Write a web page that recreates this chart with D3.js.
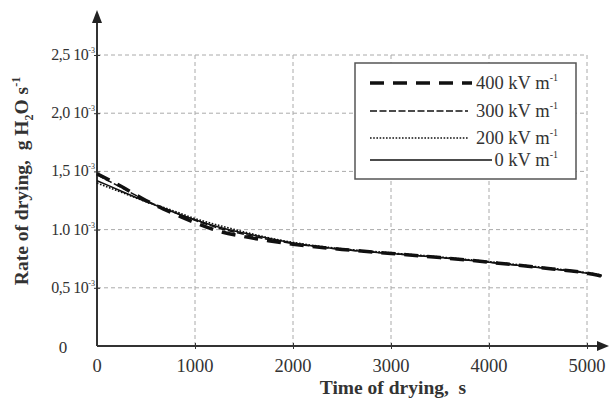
<!DOCTYPE html>
<html>
<head>
<meta charset="utf-8">
<script src="https://cdn.jsdelivr.net/npm/d3@7"></script>
<style>
body { margin: 0; background: #fff; }
text { font-family: "Liberation Serif", "Times New Roman", serif; fill: #333; }
</style>
</head>
<body>
<svg width="610" height="401"></svg>
<script>
// drying rate curves (values in 10^-3 g H2O s^-1)

var times = [0, 250, 500, 750, 1000, 1250, 1500, 1750, 2000, 2500, 3000, 3500, 4000, 4500, 5000, 5150];
var rate400 = [1.48, 1.37, 1.25, 1.15, 1.06, 0.985, 0.94, 0.905, 0.875, 0.83, 0.795, 0.76, 0.72, 0.675, 0.625, 0.60];
var rate300 = [1.47, 1.36, 1.25, 1.16, 1.08, 1.01, 0.96, 0.915, 0.88, 0.83, 0.795, 0.76, 0.72, 0.675, 0.625, 0.60];
var rate200 = [1.40, 1.32, 1.24, 1.17, 1.095, 1.035, 0.98, 0.93, 0.89, 0.835, 0.80, 0.765, 0.725, 0.68, 0.63, 0.61];
var rate0 = [1.42, 1.33, 1.24, 1.16, 1.085, 1.02, 0.97, 0.925, 0.885, 0.83, 0.795, 0.76, 0.72, 0.675, 0.625, 0.605];

var seriesNames = ["400 kV m", "300 kV m", "200 kV m", "0 kV m"];
var xTicks = [0, 1000, 2000, 3000, 4000, 5000];
var yTicks = [0.5, 1.0, 1.5, 2.0, 2.5];
var yTickLabels = ["0,5 10", "1.0 10", "1,5 10", "2,0 10", "2,5 10"];

var svg = d3.select("svg");

var Xscale = d3.scaleLinear()
				.domain([0, 5000])
				.range([97, 587]);

var Yscale = d3.scaleLinear()
				.domain([0, 2.5])
				.range([346, 55]);

var styles = [
	{ width: 3.5, dash: "14,9" },
	{ width: 1.5, dash: "7,2.5" },
	{ width: 1.6, dash: "1.6,1.6" },
	{ width: 1.5, dash: null }
];

// grid
svg.append("g")
	.selectAll("line")
	.data(xTicks.slice(1))
	.enter()
		.append("line")
		.attr("x1", d => Xscale(d))
		.attr("x2", d => Xscale(d))
		.attr("y1", Yscale(0))
		.attr("y2", Yscale(2.5))
		.attr("stroke", "#aaa")
		.attr("stroke-dasharray", "4,3");

svg.append("g")
	.selectAll("line")
	.data(yTicks)
	.enter()
		.append("line")
		.attr("x1", Xscale(0))
		.attr("x2", Xscale(5000))
		.attr("y1", d => Yscale(d))
		.attr("y2", d => Yscale(d))
		.attr("stroke", "#aaa")
		.attr("stroke-dasharray", "4,3");

// axes
var xAxis = d3.axisBottom(Xscale)
				.tickValues(xTicks.slice(1))
				.tickSize(3)
				.tickSizeOuter(0)
				.tickFormat("");

var gx = svg.append("g")
	.attr("transform", "translate(0," + Yscale(0) + ")")
	.call(xAxis);
gx.select(".domain").remove();
gx.selectAll(".tick line").attr("y1", -3).attr("stroke", "#333");

var yAxis = d3.axisLeft(Yscale)
				.tickValues(yTicks)
				.tickSize(3)
				.tickSizeOuter(0)
				.tickFormat("");

var gy = svg.append("g")
	.attr("transform", "translate(" + Xscale(0) + ",0)")
	.call(yAxis);
gy.select(".domain").remove();
gy.selectAll(".tick line").attr("x1", 3).attr("stroke", "#333");

svg.append("line")
	.attr("x1", Xscale(0)).attr("x2", 600)
	.attr("y1", Yscale(0)).attr("y2", Yscale(0))
	.attr("stroke", "#333").attr("stroke-width", 2);

svg.append("line")
	.attr("x1", Xscale(0)).attr("x2", Xscale(0))
	.attr("y1", Yscale(0)).attr("y2", 20)
	.attr("stroke", "#333").attr("stroke-width", 2);

svg.append("path")
	.attr("d", "M609," + Yscale(0) + "L597," + (Yscale(0) - 5) + "L597," + (Yscale(0) + 5) + "Z")
	.attr("fill", "#222");

svg.append("path")
	.attr("d", "M" + Xscale(0) + ",10L" + (Xscale(0) - 5) + ",23L" + (Xscale(0) + 5) + ",23Z")
	.attr("fill", "#222");

// tick labels
svg.append("g")
	.selectAll("text")
	.data(xTicks)
	.enter()
		.append("text")
		.attr("x", d => Xscale(d))
		.attr("y", 372)
		.attr("text-anchor", "middle")
		.attr("font-size", 18.5)
		.text(d => d);

var yl = svg.append("g")
	.selectAll("text")
	.data(yTicks)
	.enter()
		.append("text")
		.attr("x", Xscale(0) - 2)
		.attr("y", d => Yscale(d) + 5)
		.attr("text-anchor", "end")
		.attr("font-size", 16)
		.attr("letter-spacing", -0.5);
yl.append("tspan").text((d, i) => yTickLabels[i]);
yl.append("tspan").attr("dy", -7).attr("font-size", 8).attr("letter-spacing", 0).text("-3");

svg.append("text")
	.attr("x", 63)
	.attr("y", Yscale(0) + 7)
	.attr("text-anchor", "middle")
	.attr("font-size", 17)
	.text("0");

// curves
var allSeries = [rate400, rate300, rate200, rate0];

var line = d3.line()
	.x((d, i) => Xscale(times[i]))
	.y(d => Yscale(d))
	.curve(d3.curveMonotoneX);

svg.append("g")
	.selectAll("path")
	.data(allSeries)
	.enter()
		.append("path")
		.attr("d", d => line(d))
		.attr("fill", "none")
		.attr("stroke", "#111")
		.attr("stroke-width", (d, i) => styles[i].width)
		.attr("stroke-dasharray", (d, i) => styles[i].dash);

// legend
svg.append("rect")
	.attr("x", 355).attr("y", 63)
	.attr("width", 221).attr("height", 116)
	.attr("fill", "#fff")
	.attr("stroke", "#555")
	.attr("stroke-width", 1.5);

var legendY = [83, 111, 138, 160];
var legendEnd = [472, 468, 468, 492];

svg.append("g")
	.selectAll("line")
	.data(seriesNames)
	.enter()
		.append("line")
		.attr("x1", 370)
		.attr("x2", (d, i) => legendEnd[i])
		.attr("y1", (d, i) => legendY[i])
		.attr("y2", (d, i) => legendY[i])
		.attr("stroke", "#111")
		.attr("stroke-width", (d, i) => styles[i].width)
		.attr("stroke-dasharray", (d, i) => styles[i].dash);

var lt = svg.append("g")
	.selectAll("text")
	.data(seriesNames)
	.enter()
		.append("text")
		.attr("x", 558)
		.attr("y", (d, i) => legendY[i] + 6)
		.attr("text-anchor", "end")
		.attr("font-size", 18.5);
lt.append("tspan").text(d => d);
lt.append("tspan").attr("dy", -8).attr("font-size", 10).text("-1");

// axis titles
svg.append("text")
	.attr("x", 393)
	.attr("y", 394)
	.attr("text-anchor", "middle")
	.attr("font-size", 19.5)
	.attr("font-weight", "bold")
	.attr("xml:space", "preserve")
	.text("Time of drying,  s");

var yt = svg.append("text")
	.attr("transform", "translate(28,181) rotate(-90)")
	.attr("text-anchor", "middle")
	.attr("font-size", 19.5)
	.attr("font-weight", "bold")
	.attr("xml:space", "preserve");
yt.append("tspan").text("Rate of drying,  g H");
yt.append("tspan").attr("dy", 5).attr("font-size", 12).text("2");
yt.append("tspan").attr("dy", -5).text("O s");
yt.append("tspan").attr("dy", -8).attr("font-size", 12).text("-1");
</script>
</body>
</html>
